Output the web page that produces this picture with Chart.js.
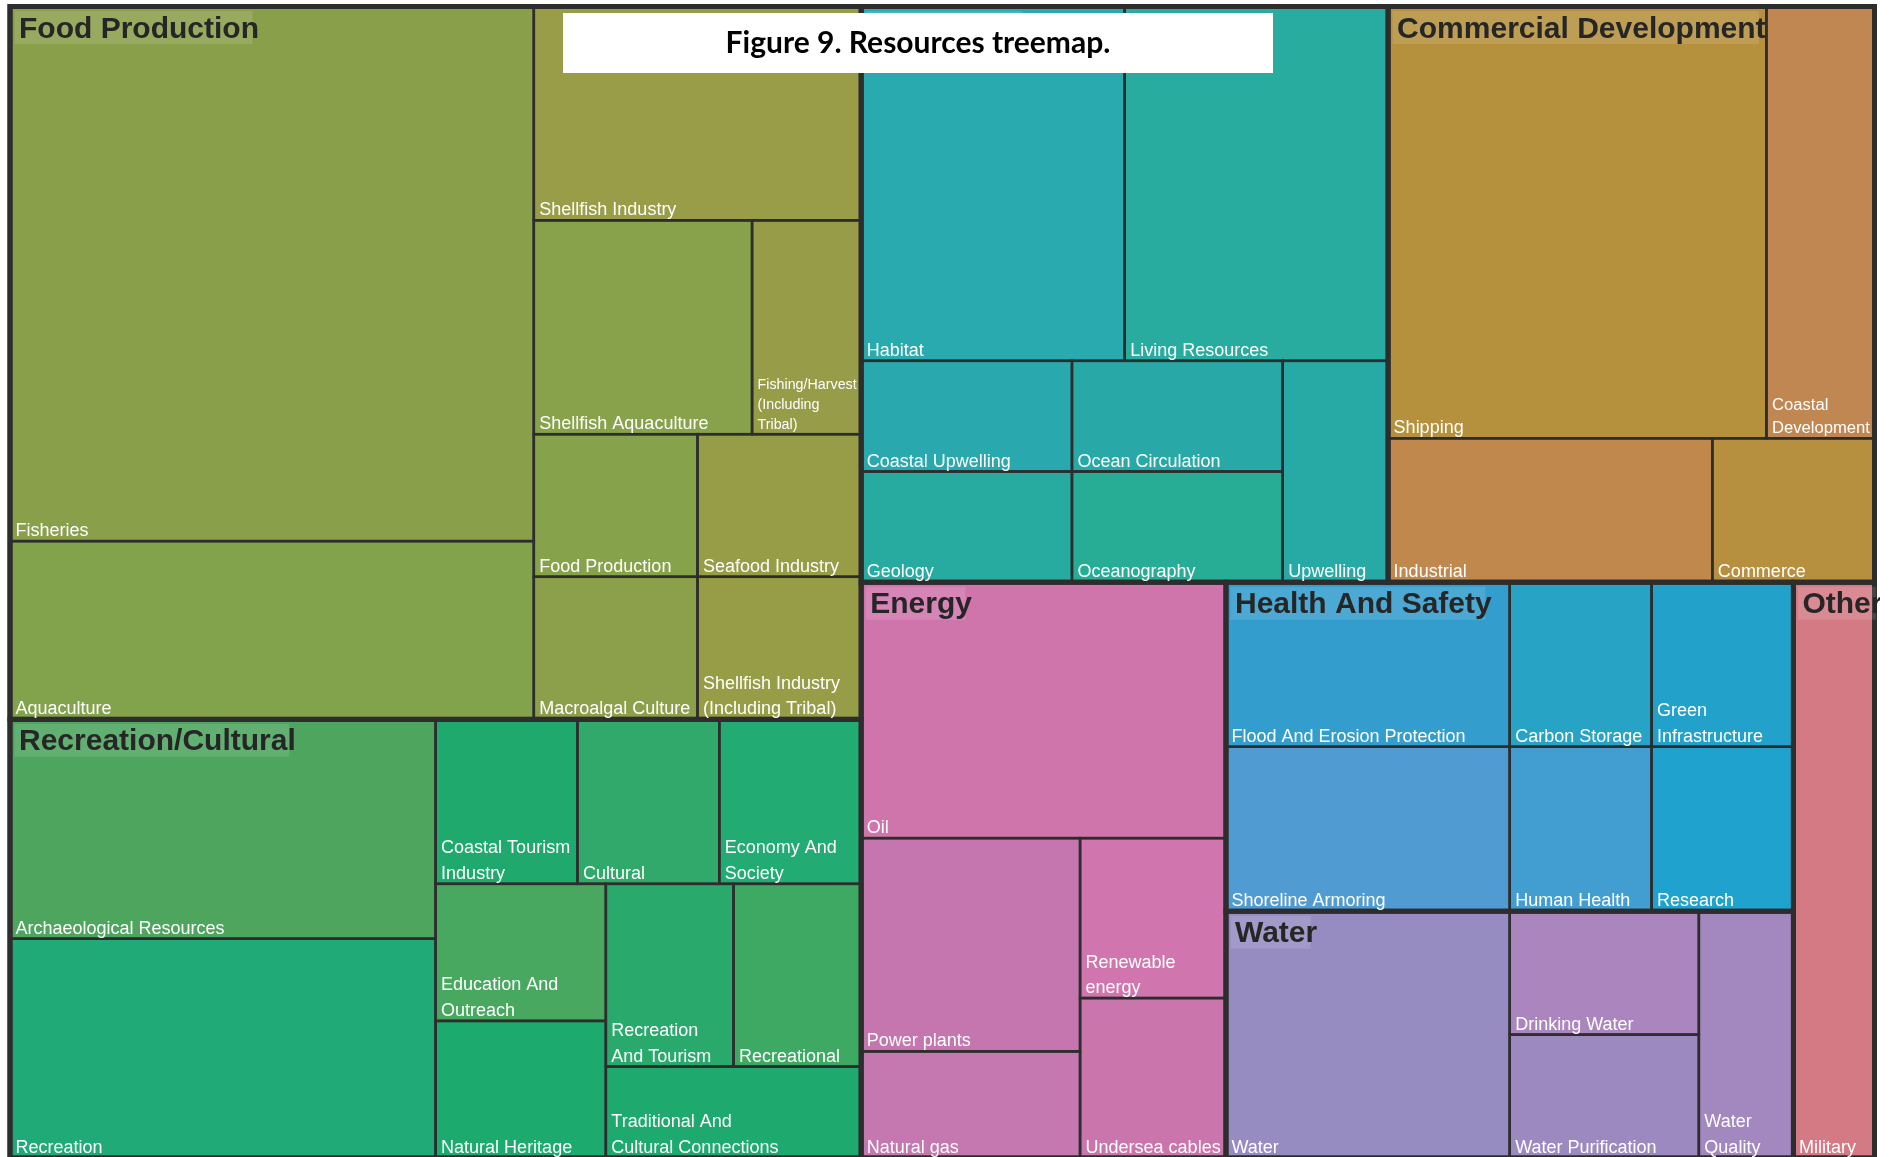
<!DOCTYPE html>
<html>
<head>
<meta charset="utf-8">
<script src="https://cdn.jsdelivr.net/npm/chart.js@4.4.1/dist/chart.umd.min.js"></script>
<style>
  html, body { margin: 0; background: #fff; overflow: hidden; }
  #wrap { position: relative; width: 1890px; height: 1157px; overflow: hidden; }
</style>
</head>
<body>
<div id="wrap"><canvas id="tm" width="1890" height="1160"></canvas></div>
<script>
// ── Datos: grupos y hojas (valores = conteos) ────────────────────────────────
const TITLE = 'Figure 9. Resources treemap.';

const groupNames = ['Food Production', 'Recreation/Cultural', 'Ecosystem', 'Commercial Development',
                    'Energy', 'Health And Safety', 'Water', 'Other'];

const foodLabels = ['Fisheries', 'Aquaculture', 'Shellfish Industry', 'Shellfish Aquaculture',
                    'Fishing/Harvest (Including Tribal)', 'Food Production', 'Macroalgal Culture',
                    'Seafood Industry', 'Shellfish Industry (Including Tribal)'];
const foodValues = [12, 4, 3, 2, 1, 1, 1, 1, 1];

const recLabels = ['Archaeological Resources', 'Recreation', 'Coastal Tourism Industry', 'Cultural',
                   'Economy And Society', 'Education And Outreach', 'Natural Heritage',
                   'Recreation And Tourism', 'Recreational', 'Traditional And Cultural Connections'];
const recValues = [4, 4, 1, 1, 1, 1, 1, 1, 1, 1];

const ecoLabels = ['Habitat', 'Living Resources', 'Coastal Upwelling', 'Geology',
                   'Ocean Circulation', 'Oceanography', 'Upwelling'];
const ecoValues = [4, 4, 1, 1, 1, 1, 1];

const comLabels = ['Shipping', 'Coastal Development', 'Industrial', 'Commerce'];
const comValues = [7, 2, 2, 1];

const enerLabels = ['Oil', 'Power plants', 'Natural gas', 'Renewable energy', 'Undersea cables'];
const enerValues = [4, 2, 1, 1, 1];

const healthLabels = ['Flood And Erosion Protection', 'Shoreline Armoring', 'Carbon Storage',
                      'Green Infrastructure', 'Human Health', 'Research'];
const healthValues = [2, 2, 1, 1, 1, 1];

const waterLabels = ['Water', 'Drinking Water', 'Water Purification', 'Water Quality'];
const waterValues = [3, 1, 1, 1];

const otherLabels = ['Military'];
const otherValues = [2];

// ── Colores por hoja ─────────────────────────────────────────────────────────
const foodColors   = ['#8a9f4a', '#83a24c', '#9a9d47', '#87a24b', '#969c48', '#86a34b', '#8c9f4a', '#979c47', '#979c47'];
const recColors    = ['#4da55e', '#1faa78', '#1fa96c', '#30a96a', '#22ac74', '#48a860', '#1daa6e', '#29aa6c', '#3da962', '#1ea96e'];
const ecoColors    = ['#29aaaf', '#27ac9f', '#29a9ae', '#27aa9f', '#28a9a8', '#27ad96', '#27aaa6'];
const comColors    = ['#b5913e', '#c18752', '#c0884c', '#b7903f'];
const enerColors   = ['#d075ac', '#c576af', '#c478af', '#d075ad', '#cb75ad'];
const healthColors = ['#339ece', '#519bd3', '#27a3c6', '#22a2cb', '#429ed0', '#20a2ce'];
const waterColors  = ['#968cc2', '#ab86be', '#9c89c0', '#a388bf'];
const otherColors  = ['#d47a85'];

const LINE = '#2d2d2d';

function makeGroup(name, labels, values, colors) {
    const children = labels.map((l, i) => ({ name: l, value: values[i], color: colors[i] }));
    children.sort((a, b) => b.value - a.value); // sort estable: empates quedan en orden alfabético
    return { name, children, value: values.reduce((s, v) => s + v, 0) };
}

const tree = [
    makeGroup(groupNames[0], foodLabels, foodValues, foodColors),
    makeGroup(groupNames[1], recLabels, recValues, recColors),
    makeGroup(groupNames[2], ecoLabels, ecoValues, ecoColors),
    makeGroup(groupNames[3], comLabels, comValues, comColors),
    makeGroup(groupNames[4], enerLabels, enerValues, enerColors),
    makeGroup(groupNames[5], healthLabels, healthValues, healthColors),
    makeGroup(groupNames[6], waterLabels, waterValues, waterColors),
    makeGroup(groupNames[7], otherLabels, otherValues, otherColors),
].sort((a, b) => b.value - a.value);

// ── Layout "pivot by size" (como treemap de R) en coordenadas 0..1 ───────────
const sum = arr => arr.reduce((s, d) => s + d.value, 0);

function pivotSize(items, r, ar, out) {
    if (!items.length) return;
    if (items.length === 1) { out.push({ node: items[0], x: r.x, y: r.y, w: r.w, h: r.h }); return; }
    const total = sum(items);
    const p = items[0], rest = items.slice(1);
    const wide = r.w * ar >= r.h;
    let best = 0, bestRatio = Infinity;
    for (let k = 0; k <= rest.length; k++) {
        const s = p.value + sum(rest.slice(0, k));
        let pw, ph;
        if (wide) { pw = r.w * s / total; ph = r.h * p.value / s; }
        else      { ph = r.h * s / total; pw = r.w * p.value / s; }
        const ratio = Math.max(pw * ar / ph, ph / (pw * ar));
        if (ratio < bestRatio) { bestRatio = ratio; best = k; }
    }
    const l2 = rest.slice(0, best), l3 = rest.slice(best);
    const s = p.value + sum(l2);
    if (wide) {
        const cw = r.w * s / total, ph = r.h * p.value / s;
        out.push({ node: p, x: r.x, y: r.y, w: cw, h: ph });
        pivotSize(l2, { x: r.x, y: r.y + ph, w: cw, h: r.h - ph }, ar, out);
        pivotSize(l3, { x: r.x + cw, y: r.y, w: r.w - cw, h: r.h }, ar, out);
    } else {
        const rh = r.h * s / total, pw = r.w * p.value / s;
        out.push({ node: p, x: r.x, y: r.y, w: pw, h: rh });
        pivotSize(l2, { x: r.x + pw, y: r.y, w: r.w - pw, h: rh }, ar, out);
        pivotSize(l3, { x: r.x, y: r.y + rh, w: r.w, h: r.h - rh }, ar, out);
    }
}

// ── Etiquetas: partir en el espacio más cercano al centro ────────────────────
function splitMiddle(s) {
    const mid = (s.length + 1) / 2;
    let best = -1, bd = Infinity;
    for (let i = 0; i < s.length; i++) {
        if (s[i] === ' ' && Math.abs(i - mid) < bd) { bd = Math.abs(i - mid); best = i; }
    }
    return best < 0 ? null : [s.slice(0, best), s.slice(best + 1)];
}

function wrapLabel(ctx, text, maxW) {
    let lines = [text], changed = true;
    while (changed) {
        changed = false;
        const next = [];
        for (const ln of lines) {
            if (ctx.measureText(ln).width > maxW) {
                const sp = splitMiddle(ln);
                if (sp) { next.push(...sp); changed = true; continue; }
            }
            next.push(ln);
        }
        lines = next;
    }
    return lines;
}

const treemapPlugin = {
    id: 'treemap',
    afterDatasetsDraw(chart) {
        const { ctx, chartArea: a, scales: { x, y } } = chart;
        const ar = a.width / a.height;

        const groupRects = [];
        pivotSize(tree, { x: 0, y: 0, w: 1, h: 1 }, ar, groupRects);
        const leafRects = [];
        groupRects.forEach(g => pivotSize(g.node.children, g, ar, leafRects));

        const toPx = r => {
            const l = x.getPixelForValue(r.x), t = y.getPixelForValue(r.y);
            return { l, t, w: x.getPixelForValue(r.x + r.w) - l, h: y.getPixelForValue(r.y + r.h) - t };
        };

        ctx.save();
        ctx.beginPath();
        ctx.rect(0, 0, 1880, chart.height);
        ctx.clip();

        // celdas
        leafRects.forEach(r => {
            const p = toPx(r);
            ctx.fillStyle = r.node.color;
            ctx.fillRect(p.l, p.t, p.w, p.h);
        });
        ctx.strokeStyle = LINE;
        ctx.lineWidth = 2.5;
        leafRects.forEach(r => { const p = toPx(r); ctx.strokeRect(p.l, p.t, p.w, p.h); });
        ctx.lineWidth = 5;
        groupRects.forEach(r => { const p = toPx(r); ctx.strokeRect(p.l, p.t, p.w, p.h); });
        ctx.strokeRect(a.left, a.top, a.width, a.height);

        // etiquetas de hojas (abajo a la izquierda, blanco)
        ctx.fillStyle = '#ffffff';
        ctx.textBaseline = 'alphabetic';
        ctx.textAlign = 'left';
        leafRects.forEach(r => {
            const p = toPx(r);
            const maxW = p.w - 10;
            ctx.font = '18px "Liberation Sans", Arial, sans-serif';
            const lines = wrapLabel(ctx, r.node.name, maxW);
            const widest = Math.max(...lines.map(l => ctx.measureText(l).width));
            const size = 18 * Math.min(1, maxW / widest);
            const lh = size * 1.42;
            ctx.font = size.toFixed(2) + 'px "Liberation Sans", Arial, sans-serif';
            lines.forEach((ln, i) => {
                ctx.fillText(ln, p.l + 5.5, p.t + p.h - 5 - (lines.length - 1 - i) * lh);
            });
        });

        // etiquetas de grupo (arriba a la izquierda, con fondo translúcido)
        ctx.font = 'bold 30px "Liberation Sans", Arial, sans-serif';
        groupRects.forEach(r => {
            const p = toPx(r);
            const tw = ctx.measureText(r.node.name).width;
            ctx.fillStyle = 'rgba(255,255,255,0.12)';
            ctx.fillRect(p.l + 4.5, p.t + 4.5, tw - 2, 33);
            ctx.fillStyle = '#262626';
            ctx.fillText(r.node.name, p.l + 9, p.t + 31);
        });
        ctx.restore();

        // recuadro del título
        ctx.save();
        ctx.fillStyle = '#ffffff';
        ctx.fillRect(563, 13, 710, 60);
        ctx.fillStyle = '#000000';
        ctx.font = 'bold 30px Lato, "Open Sans", sans-serif';
        ctx.textAlign = 'center';
        ctx.fillText(TITLE, 918, 53);
        ctx.restore();
    }
};

new Chart(document.getElementById('tm'), {
    type: 'scatter',
    data: { datasets: [{ label: 'Resources', data: [], pointRadius: 0 }] },
    options: {
        responsive: false,
        animation: false,
        events: [],
        layout: { padding: { left: 10, top: 6.5, right: 15.5, bottom: 2 } },
        plugins: { legend: { display: false }, tooltip: { enabled: false }, title: { display: false } },
        scales: {
            x: { type: 'linear', min: 0, max: 1, display: false },
            y: { type: 'linear', min: 0, max: 1, reverse: true, display: false }
        }
    },
    plugins: [treemapPlugin]
});
</script>
</body>
</html>
